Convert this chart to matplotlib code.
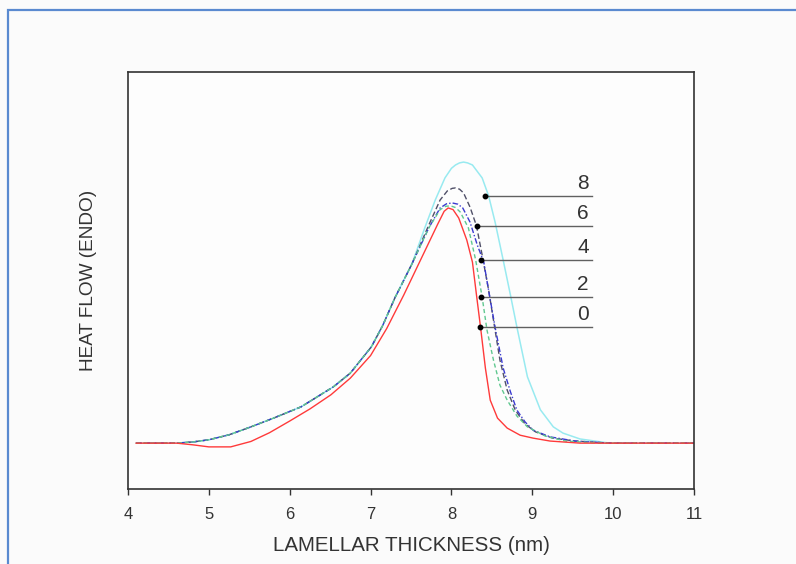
import matplotlib.pyplot as plt
from matplotlib.patches import Rectangle

plt.rcParams["font.family"] = ["Liberation Sans", "DejaVu Sans"]

# DSC endotherms converted to lamellar thickness, one per sample
x_common = [4.10, 4.60, 4.81, 5.00, 5.25, 5.52, 5.80, 6.14, 6.54, 6.75, 7.01, 7.15, 7.30, 7.51]
y_common = [11.0, 11.0, 11.3, 11.8, 13.0, 14.9, 17.0, 19.7, 24.5, 27.8, 34.1, 39.2, 45.8, 53.9]

x_0 = [4.10, 4.60, 4.80, 5.00, 5.27, 5.52, 5.75, 6.00, 6.25, 6.51, 6.75, 7.00, 7.20, 7.41, 7.62,
       7.83, 7.91, 7.96, 8.02, 8.09, 8.19, 8.26, 8.31, 8.36, 8.42, 8.48, 8.57, 8.69, 8.85, 9.01,
       9.22, 9.59, 11.0]
y_0 = [11.0, 11.0, 10.6, 10.1, 10.1, 11.4, 13.5, 16.3, 19.2, 22.6, 26.6, 32.0, 38.5, 46.5, 55.0,
       63.5, 66.6, 67.4, 67.0, 65.0, 59.7, 54.4, 46.5, 38.8, 29.0, 21.3, 17.0, 14.6, 12.9, 12.2,
       11.5, 11.0, 11.0]

x_2 = x_common + [7.72, 7.86, 7.93, 7.99, 8.05, 8.11, 8.21, 8.30, 8.38, 8.44, 8.52, 8.60, 8.69,
                  8.81, 8.94, 9.16, 9.41, 9.84, 11.0]
y_2 = y_common + [62.6, 67.0, 67.8, 67.9, 67.5, 66.4, 62.6, 54.9, 46.0, 38.1, 30.9, 24.9, 21.3,
                  17.5, 14.9, 12.7, 11.5, 11.0, 11.0]

x_4 = x_common + [7.72, 7.86, 7.94, 8.01, 8.08, 8.14, 8.23, 8.32, 8.40, 8.47, 8.54, 8.64, 8.73,
                  8.81, 8.91, 9.01, 9.22, 9.53, 9.96, 11.0]
y_4 = y_common + [62.6, 67.4, 68.4, 68.6, 68.3, 67.4, 64.0, 58.5, 54.4, 46.5, 38.8, 29.0, 23.3,
                  18.9, 16.1, 14.1, 12.5, 11.5, 11.0, 11.0]

x_6 = x_common + [7.72, 7.86, 7.95, 8.01, 8.05, 8.10, 8.15, 8.23, 8.31, 8.38, 8.46, 8.53, 8.60,
                  8.69, 8.79, 8.91, 9.04, 9.25, 9.53, 9.96, 11.0]
y_6 = y_common + [63.3, 69.3, 71.5, 72.1, 72.2, 71.9, 71.0, 67.6, 63.1, 56.1, 47.7, 39.3, 30.9,
                  23.7, 18.9, 15.6, 13.7, 12.2, 11.5, 11.0, 11.0]

x_8 = x_common + [7.67, 7.80, 7.92, 8.00, 8.05, 8.10, 8.15, 8.20, 8.26, 8.38, 8.46, 8.54, 8.64,
                  8.73, 8.81, 8.94, 9.10, 9.26, 9.38, 9.59, 9.96, 11.0]
y_8 = y_common + [62.6, 69.3, 74.6, 76.9, 77.7, 78.2, 78.4, 78.2, 77.7, 74.6, 70.3, 64.0, 54.9,
                  46.5, 38.8, 26.9, 19.0, 14.9, 13.4, 12.0, 11.0, 11.0]

# curve labels and where their pointer lines sit
labels = ["8", "6", "4", "2", "0"]
label_y = [70.3, 63.1, 54.9, 46.0, 38.8]
label_dot_x = [8.42, 8.32, 8.37, 8.36, 8.35]

fig = plt.figure(figsize=(7.96, 5.64), dpi=100, facecolor="#fbfbfb")
fig.patches.append(Rectangle((8 / 796, -0.1), 2, (554 / 564) + 0.1, transform=fig.transFigure,
                             fill=False, edgecolor="#5a8ad0", lw=1.6))

ax = fig.add_axes([128 / 796, 75 / 564, 566 / 796, 417 / 564])
ax.set_facecolor("#fdfdfd")

ax.plot(x_8, y_8, color="#98eaf0", lw=1.1, ls="-")
ax.plot(x_6, y_6, color="#505068", lw=1.0, ls=(0, (4, 2)))
ax.plot(x_4, y_4, color="#3a3ad0", lw=1.0, ls=(0, (4, 1.5, 1, 1.5)))
ax.plot(x_2, y_2, color="#60c890", lw=1.0, ls=(0, (3, 2)))
ax.plot(x_0, y_0, color="#ff3a3a", lw=1.0, ls="-")

for lab, ly, dx in zip(labels, label_y, label_dot_x):
    ax.plot([dx, 9.74], [ly, ly], color="#606060", lw=1.0)
    ax.plot(dx, ly, "o", color="black", ms=3.2)
    ax.annotate(lab, xy=(9.63, ly), xytext=(0, 2), textcoords="offset points",
                ha="center", va="bottom", fontsize=15, color="#333333")

ax.set_xlim(4, 11)
ax.set_ylim(0, 100)
ax.set_xticks(range(4, 12))
ax.set_yticks([])
ax.tick_params(axis="x", direction="out", length=4, width=1, colors="#333333",
               labelsize=12, pad=9)
for s in ax.spines.values():
    s.set_color("#333333")
    s.set_linewidth(1.2)

ax.set_xlabel("LAMELLAR THICKNESS (nm)", fontsize=14.8, color="#333333", labelpad=10)
ax.set_ylabel("HEAT FLOW (ENDO)", fontsize=13.7, color="#333333", labelpad=22)

fig.savefig("out.png", dpi=100, facecolor=fig.get_facecolor())
